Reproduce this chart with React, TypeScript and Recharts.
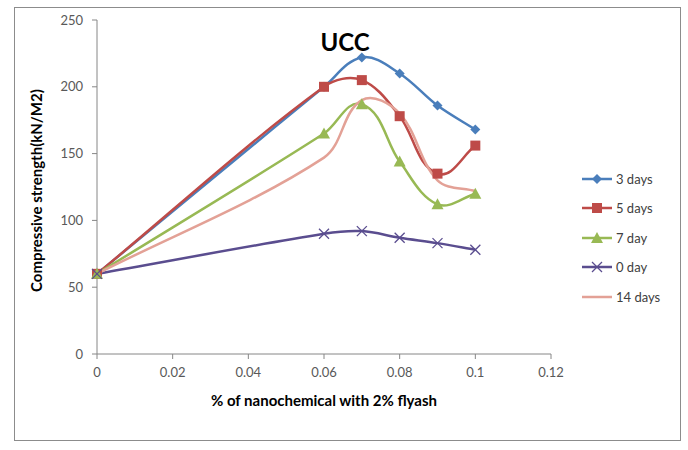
import { LineChart, Line, XAxis, YAxis } from 'recharts';

// x = % of nanochemical (with 2% flyash)
const DOSAGE = [0, 0.06, 0.07, 0.08, 0.09, 0.1];

const DAYS_3 = [60, 200, 222, 210, 186, 168];
const DAYS_5 = [60, 200, 205, 178, 135, 156];
const DAY_7 = [60, 165, 187, 144, 112, 120];
const DAY_0 = [60, 90, 92, 87, 83, 78];
const DAYS_14 = [60, 147, 190, 180, 130, 122];

const X_TICKS = [0, 0.02, 0.04, 0.06, 0.08, 0.1, 0.12];
const Y_TICKS = [0, 50, 100, 150, 200, 250];

const SERIES = [
  { key: 'd3', name: '3 days', values: DAYS_3, color: '#4A7EBB', marker: 'diamond' },
  { key: 'd5', name: '5 days', values: DAYS_5, color: '#BE4B48', marker: 'square' },
  { key: 'd7', name: '7 day', values: DAY_7, color: '#98B954', marker: 'triangle' },
  { key: 'd0', name: '0 day', values: DAY_0, color: '#5A4D8F', marker: 'x' },
  { key: 'd14', name: '14 days', values: DAYS_14, color: '#E3A196', marker: 'none' },
];

const rows = DOSAGE.map((x, i) => {
  const row: Record<string, number> = { x };
  SERIES.forEach(s => { row[s.key] = s.values[i]; });
  return row;
});

// smoothed line like Excel's: tangent along the neighbours, handle length a third of the segment
function smoothLine(context: any) {
  let pts: [number, number][] = [];
  const dir = (a: [number, number], b: [number, number]) => {
    const dx = b[0] - a[0];
    const dy = b[1] - a[1];
    const len = Math.hypot(dx, dy) || 1;
    return [dx / len, dy / len];
  };
  return {
    areaStart() {},
    areaEnd() {},
    lineStart() { pts = []; },
    point(x: number, y: number) { pts.push([+x, +y]); },
    lineEnd() {
      if (!pts.length) return;
      context.moveTo(pts[0][0], pts[0][1]);
      for (let i = 0; i < pts.length - 1; i++) {
        const p0 = pts[i - 1] || pts[i];
        const p1 = pts[i];
        const p2 = pts[i + 1];
        const p3 = pts[i + 2] || p2;
        const L = Math.hypot(p2[0] - p1[0], p2[1] - p1[1]) / 3;
        const t1 = dir(p0, p2);
        const t2 = dir(p1, p3);
        context.bezierCurveTo(
          p1[0] + t1[0] * L, p1[1] + t1[1] * L,
          p2[0] - t2[0] * L, p2[1] - t2[1] * L,
          p2[0], p2[1],
        );
      }
    },
  };
}

function Marker({ cx, cy, kind, color }: { cx: number; cy: number; kind: string; color: string }) {
  if (kind === 'diamond') {
    return <path d={`M${cx},${cy - 5}L${cx + 5},${cy}L${cx},${cy + 5}L${cx - 5},${cy}Z`} fill={color} />;
  }
  if (kind === 'square') {
    return <rect x={cx - 5} y={cy - 5} width={10} height={10} fill={color} />;
  }
  if (kind === 'triangle') {
    return <path d={`M${cx},${cy - 6}L${cx + 6},${cy + 5}L${cx - 6},${cy + 5}Z`} fill={color} />;
  }
  if (kind === 'x') {
    return (
      <g stroke={color} strokeWidth={1.3}>
        <line x1={cx - 5} y1={cy - 5} x2={cx + 5} y2={cy + 5} />
        <line x1={cx - 5} y1={cy + 5} x2={cx + 5} y2={cy - 5} />
      </g>
    );
  }
  return null;
}

const FONT = 'Lato, "Open Sans", sans-serif';

export default function App() {
  return (
    <div style={{ position: 'absolute', left: 0, top: 0, width: 688, height: 450, background: '#fff', fontFamily: FONT }}>
      {/* chart frame */}
      <div style={{ position: 'absolute', left: 14, top: 7, width: 665, height: 432, border: '1px solid #8c8c8c' }} />

      <div style={{ position: 'absolute', left: 0, top: 0 }}>
        <LineChart width={688} height={450} data={rows} margin={{ top: 20, right: 137, bottom: 36, left: 37 }}>
          <XAxis
            type="number"
            dataKey="x"
            domain={[0, 0.12]}
            ticks={X_TICKS}
            height={60}
            stroke="#868686"
            tickSize={5}
            tickMargin={9}
            tick={{ fontSize: 13, fill: '#595959', fontFamily: FONT }}
            label={{ value: '% of nanochemical with 2% flyash', position: 'insideBottom', offset: 8, fontSize: 15, fontWeight: 700, fill: '#000', fontFamily: FONT }}
          />
          <YAxis
            type="number"
            domain={[0, 250]}
            ticks={Y_TICKS}
            width={60}
            stroke="#868686"
            tickSize={5}
            tickMargin={9}
            tick={{ fontSize: 13, fill: '#595959', fontFamily: FONT }}
            label={{ value: 'Compressive strength(kN/M2)', angle: -90, position: 'insideLeft', offset: 0, fontSize: 15, fontWeight: 700, fill: '#000', fontFamily: FONT, dy: 105 }}
          />
          {SERIES.map(s => (
            <Line
              key={s.key}
              dataKey={s.key}
              name={s.name}
              type={smoothLine as any}
              stroke={s.color}
              strokeWidth={2.5}
              isAnimationActive={false}
              dot={(p: any) => <Marker key={`${s.key}-${p.index}`} cx={p.cx} cy={p.cy} kind={s.marker} color={s.color} />}
              activeDot={false}
            />
          ))}
        </LineChart>
      </div>

      {/* title */}
      <div style={{ position: 'absolute', left: 300, top: 27, width: 90, textAlign: 'center', fontSize: 24, fontWeight: 700, color: '#000' }}>UCC</div>

      {/* legend */}
      <div style={{ position: 'absolute', left: 580, top: 164 }}>
        {SERIES.map(s => (
          <div key={s.key} style={{ display: 'flex', alignItems: 'center', height: 29.5 }}>
            <svg width={34} height={14}>
              <line x1={2} y1={7} x2={32} y2={7} stroke={s.color} strokeWidth={2.5} />
              <Marker cx={17} cy={7} kind={s.marker} color={s.color} />
            </svg>
            <span style={{ fontSize: 13, color: '#404040', marginLeft: 2 }}>{s.name}</span>
          </div>
        ))}
      </div>
    </div>
  );
}
